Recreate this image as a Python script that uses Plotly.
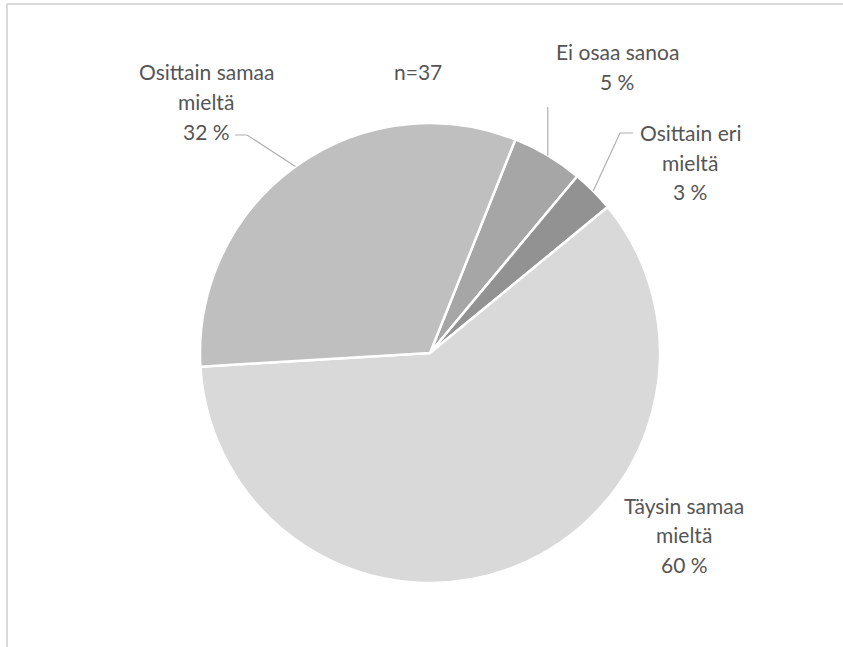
import math
import plotly.graph_objects as go

# Survey answers (n=37), shares in percent, clockwise from the start angle
labels = ["Ei osaa sanoa", "Osittain eri mieltä", "Täysin samaa mieltä", "Osittain samaa mieltä"]
label_lines = [["Ei osaa sanoa"], ["Osittain eri", "mieltä"], ["Täysin samaa", "mieltä"], ["Osittain samaa", "mieltä"]]
shares = [5, 3, 60, 32]
colors = ["#a6a6a6", "#929292", "#d9d9d9", "#bfbfbf"]
sample_note = "n=37"

W, H = 843, 647
CX, CY, R = 430, 353, 230          # pie centre and radius in pixels
ROTATION = 21.8
TEXT_COLOR = "#555555"
FONT = "Lato"
FONT_SIZE = 21


def px(x):
    return x / W


def py(y):
    return 1 - y / H


total = sum(shares)

fig = go.Figure(go.Pie(
    labels=labels,
    values=shares,
    sort=False,
    direction="clockwise",
    rotation=ROTATION,
    marker=dict(colors=colors, line=dict(color="white", width=2.5)),
    textinfo="none",
    hoverinfo="label+percent",
    showlegend=False,
    domain=dict(x=[px(CX - R), px(CX + R)], y=[py(CY + R), py(CY - R)]),
))

# edge point of each slice at its middle angle (clockwise from 12 o'clock)
edge = []
cum = 0
for v in shares:
    ang = math.radians(ROTATION + (cum + v / 2) / total * 360)
    edge.append((CX + R * math.sin(ang), CY - R * math.cos(ang)))
    cum += v

# label block centres (x, first line y) and leader-line elbows
label_pos = [(617, 52), (690, 133), (684, 505), (206, 72)]
line_gap = 29.5
leaders = [
    [(None, 107)],                 # straight up from the slice edge
    [(620, 133), (633, 133)],
    None,
    [(247, 135), (235, 135)],
]

annotations = []
for i, lines in enumerate(label_lines):
    x0, y0 = label_pos[i]
    for j, t in enumerate(lines + [f"{shares[i]} %"]):
        annotations.append(dict(
            x=px(x0), y=py(y0 + j * line_gap), xref="paper", yref="paper",
            text=t, showarrow=False, xanchor="center", yanchor="middle",
            font=dict(family=FONT, size=FONT_SIZE, color=TEXT_COLOR),
        ))

annotations.append(dict(
    x=px(418), y=py(72), xref="paper", yref="paper", text=sample_note,
    showarrow=False, xanchor="center", yanchor="middle",
    font=dict(family=FONT, size=FONT_SIZE, color=TEXT_COLOR),
))

shapes = []
for i, pts in enumerate(leaders):
    if not pts:
        continue
    ex, ey = edge[i]
    path_pts = [(ex, ey)] + [((ex if x is None else x), y) for x, y in pts]
    d = "M " + " L ".join(f"{px(x):.5f},{py(y):.5f}" for x, y in path_pts)
    shapes.append(dict(type="path", path=d, xref="paper", yref="paper",
                       line=dict(color="#b0b0b0", width=1.2)))

# chart frame (top and left edges)
shapes.append(dict(type="line", xref="paper", yref="paper",
                   x0=px(7), x1=1, y0=py(4), y1=py(4),
                   line=dict(color="#d9d9d9", width=2)))
shapes.append(dict(type="line", xref="paper", yref="paper",
                   x0=px(7), x1=px(7), y0=py(4), y1=0,
                   line=dict(color="#d9d9d9", width=2)))

fig.update_layout(
    width=W, height=H,
    margin=dict(l=0, r=0, t=0, b=0),
    paper_bgcolor="white", plot_bgcolor="white",
    annotations=annotations, shapes=shapes,
)

fig.write_html("out.html")
